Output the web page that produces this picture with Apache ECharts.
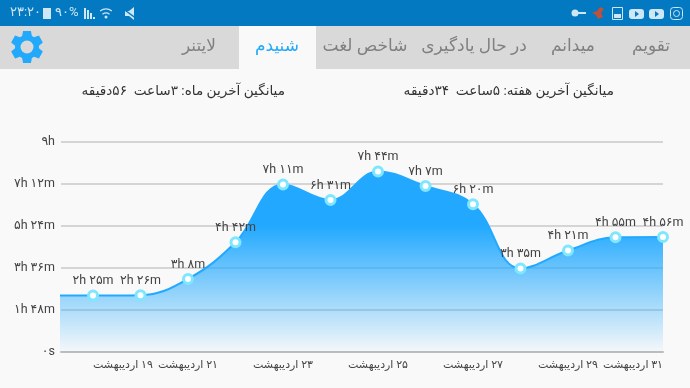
<!DOCTYPE html>
<html>
<head>
<meta charset="utf-8">
<style>
html,body{margin:0;padding:0;background:#f9f9f9}
#main{width:690px;height:388px}
</style>
<script src="https://cdn.jsdelivr.net/npm/echarts@6/dist/echarts.min.js"></script>
</head>
<body>
<div id="main"></div>
<script>
// day of the month (اردیبهشت), the first one is only there so the area runs out to the left edge
var days = [18,19,20,21,22,23,24,25,26,27,28,29,30,31];
// minutes per day
var minutes = [145,145,146,188,282,431,391,464,427,380,215,261,295,296];
var pointLabels = ['','۲h ۲۵m','۲h ۲۶m','۳h ۸m','۴h ۴۲m','۷h ۱۱m','۶h ۳۱m','۷h ۴۴m','۷h ۷m','۶h ۲۰m','۳h ۳۵m','۴h ۲۱m','۴h ۵۵m','۴h ۵۶m'];
var yTicks = [0,108,216,324,432,540];
var yTickLabels = ['۰s','۱h ۴۸m','۳h ۳۶m','۵h ۲۴m','۷h ۱۲m','۹h'];
var xTicks = [19,21,23,25,27,29,31];
var xTickLabels = ['۱۹ اردیبهشت','۲۱ اردیبهشت','۲۳ اردیبهشت','۲۵ اردیبهشت','۲۷ اردیبهشت','۲۹ اردیبهشت','۳۱ اردیبهشت'];
var tabs = ['تقویم','میدانم','در حال یادگیری','شاخص لغت','شنیدم','لایتنر'];
var tabCenters = [651,573,474,365,277,199];

var fontFa = "Roboto, 'DejaVu Sans', sans-serif";
var myChart = echarts.init(document.getElementById('main'));

function rtl(s){ return '\u202B' + s + '\u202C'; }

// gear outline, six teeth
function gearPoints(cx,cy){
  var pts = [];
  for(var i=0;i<6;i++){
    var a = i*Math.PI/3 - Math.PI/2;
    [[-0.42,12],[-0.24,16.5],[0.24,16.5],[0.42,12]].forEach(function(p){
      pts.push([cx+p[1]*Math.cos(a+p[0]),cy+p[1]*Math.sin(a+p[0])]);
    });
  }
  return pts;
}

var light = '#cfe6f5';
var graphics = [
  {type:'rect',z:-10,shape:{x:0,y:0,width:690,height:26},style:{fill:'#0279c1'}},
  {type:'rect',z:-10,shape:{x:0,y:26,width:690,height:43},style:{fill:'#d9d9d9'}},
  {type:'rect',z:-9,shape:{x:239,y:26,width:77,height:43},style:{fill:'#f9f9f9'}},
  {type:'polygon',z:5,shape:{points:gearPoints(27,47)},style:{fill:'#22a9fb'}},
  {type:'circle',z:6,shape:{cx:27,cy:47,r:6.5},style:{fill:'#d9d9d9'}},
  // status bar, left
  {type:'text',z:5,x:10,y:13,style:{text:'۲۳:۲۰',fill:light,font:'13px '+fontFa,textVerticalAlign:'middle'}},
  {type:'rect',z:5,shape:{x:43,y:8,width:8,height:11},style:{fill:light}},
  {type:'text',z:5,x:55,y:13,style:{text:'۹۰%',fill:light,font:'13px '+fontFa,textVerticalAlign:'middle'}},
  {type:'rect',z:5,shape:{x:84,y:8,width:2,height:11},style:{fill:light}},
  {type:'rect',z:5,shape:{x:87,y:10,width:2,height:9},style:{fill:light}},
  {type:'rect',z:5,shape:{x:90,y:13,width:2,height:6},style:{fill:light}},
  {type:'rect',z:5,shape:{x:93,y:17,width:2,height:2},style:{fill:light}},
  {type:'arc',z:5,shape:{cx:106,cy:19,r:10,startAngle:-2.2,endAngle:-0.94},style:{stroke:light,lineWidth:1.2,fill:null}},
  {type:'arc',z:5,shape:{cx:106,cy:19,r:6,startAngle:-2.2,endAngle:-0.94},style:{stroke:light,lineWidth:1.2,fill:null}},
  {type:'circle',z:5,shape:{cx:106,cy:17,r:1.5},style:{fill:light}},
  {type:'polygon',z:5,shape:{points:[[125,11],[129,11],[134,7],[134,20],[129,16],[125,16]]},style:{fill:light}},
  {type:'line',z:6,shape:{x1:122,y1:8,x2:137,y2:19},style:{stroke:'#0279c1',lineWidth:1.5}},
  // status bar, right
  {type:'circle',z:5,shape:{cx:575,cy:13,r:3.5},style:{fill:light}},
  {type:'rect',z:5,shape:{x:578,y:12,width:8,height:2},style:{fill:light}},
  {type:'polygon',z:5,shape:{points:[[592,13],[597,11],[600,7],[604,9],[601,13],[603,17],[598,19],[596,15]]},style:{fill:'#c0503a'}},
  {type:'rect',z:5,shape:{x:612.5,y:7.5,width:10,height:12},style:{fill:'none',stroke:light,lineWidth:1}},
  {type:'rect',z:5,shape:{x:614,y:14,width:7,height:4},style:{fill:light}},
  {type:'rect',z:5,shape:{x:629,y:9,width:15,height:10,r:3},style:{fill:light}},
  {type:'polygon',z:6,shape:{points:[[635,11],[639,14],[635,17]]},style:{fill:'#0279c1'}},
  {type:'rect',z:5,shape:{x:649,y:9,width:15,height:10,r:3},style:{fill:light}},
  {type:'polygon',z:6,shape:{points:[[655,11],[659,14],[655,17]]},style:{fill:'#0279c1'}},
  {type:'rect',z:5,shape:{x:670.5,y:7.5,width:12,height:12,r:3},style:{fill:'none',stroke:light,lineWidth:1}},
  {type:'circle',z:5,shape:{cx:676.5,cy:13.5,r:3},style:{fill:'none',stroke:light,lineWidth:1}},
  // averages
  {type:'text',z:5,x:285,y:92,style:{text:rtl('میانگین آخرین ماه: ۳ساعت  ۵۶دقیقه'),fill:'#333',font:'13.6px '+fontFa,textAlign:'right',textVerticalAlign:'middle'}},
  {type:'text',z:5,x:614,y:92,style:{text:rtl('میانگین آخرین هفته: ۵ساعت  ۳۴دقیقه'),fill:'#333',font:'13.6px '+fontFa,textAlign:'right',textVerticalAlign:'middle'}}
];
tabs.forEach(function(t,i){
  graphics.push({type:'text',z:5,x:tabCenters[i],y:47,style:{text:t,fill:t=='شنیدم'?'#22a9fb':'#808080',font:'17px '+fontFa,textAlign:'center',textVerticalAlign:'middle'}});
});

var points = days.map(function(d,i){
  return {value:[d,minutes[i]],label:{formatter:pointLabels[i]}};
});

var option = {
  animation:false,
  backgroundColor:'#f9f9f9',
  graphic:graphics,
  grid:{left:61,right:27,top:142,height:210},
  xAxis:{
    type:'value',
    min:18.326,
    max:31,
    axisLine:{show:true,lineStyle:{color:'#bdbdbd',width:2}},
    axisTick:{show:false},
    splitLine:{show:false},
    axisLabel:{
      customValues:xTicks,
      alignMinLabel:'left',
      alignMaxLabel:'right',
      margin:8,
      color:'#444',
      fontFamily:fontFa,
      fontSize:11,
      formatter:function(v){ return rtl(xTickLabels[xTicks.indexOf(v)]); }
    }
  },
  yAxis:{
    type:'value',
    min:0,
    max:540,
    interval:108,
    axisLine:{show:false},
    axisTick:{show:false},
    splitLine:{lineStyle:{color:'#c8c8c8',width:1.5}},
    axisLabel:{
      margin:6,
      color:'#444',
      fontFamily:fontFa,
      fontSize:12.5,
      formatter:function(v){ return yTickLabels[yTicks.indexOf(v)]; }
    }
  },
  series:[{
    type:'line',
    data:points,
    smooth:0.4,
    clip:true,
    z:1,
    symbol:'circle',
    symbolSize:9,
    showAllSymbols:true,
    itemStyle:{color:'#fff',borderColor:'#7fe6ff',borderWidth:3},
    lineStyle:{color:'#22a9ff',width:2},
    areaStyle:{
      opacity:1,
      color:new echarts.graphic.LinearGradient(0,0,0,1,[
        {offset:0,color:'rgba(34,169,255,1)'},
        {offset:0.3,color:'rgba(34,169,255,1)'},
        {offset:1,color:'rgba(34,169,255,0.02)'}
      ])
    },
    label:{show:true,position:'top',distance:2,color:'#444',fontFamily:fontFa,fontSize:12.5}
  }]
};
myChart.setOption(option);
</script>
</body>
</html>
